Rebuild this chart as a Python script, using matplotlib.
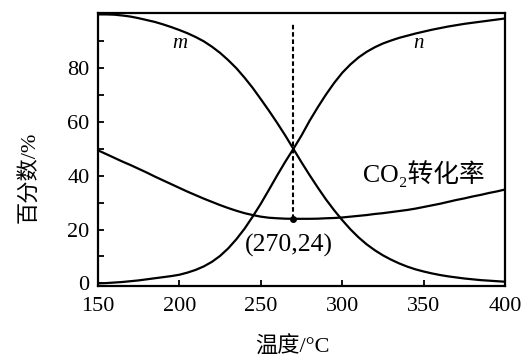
import matplotlib.pyplot as plt
from matplotlib.ticker import MultipleLocator

plt.rcParams['font.family'] = ['Liberation Serif', 'Noto Sans CJK SC', 'DejaVu Sans']

# temperature (deg C) and curve values (%), every 5 deg
temps = list(range(150, 401, 5))
m_vals = [100, 100, 99.9, 99.6, 99.2, 98.6, 97.9, 97.2, 96.3, 95.3,
          94.2, 93, 91.6, 90, 88, 85.7, 83, 80, 76.5, 72.7,
          68.5, 64.2, 59.7, 55, 50, 45, 40.2, 35.6, 31.2, 27.2,
          23.5, 20.1, 17.1, 14.5, 12.3, 10.4, 8.8, 7.4, 6.2, 5.2,
          4.4, 3.7, 3.1, 2.6, 2.2, 1.8, 1.5, 1.2, 1, 0.8, 0.6]
n_vals = [0, 0.1, 0.3, 0.5, 0.8, 1.1, 1.5, 1.9, 2.3, 2.7,
          3.2, 4, 5, 6.3, 8, 10.2, 13, 16.4, 20.3, 24.8,
          29.6, 34.8, 40.1, 45.2, 50, 55, 60.5, 65.5, 70.2, 74.5,
          78.3, 81.4, 84, 86.1, 87.8, 89.2, 90.3, 91.3, 92.1, 92.9,
          93.6, 94.3, 94.9, 95.5, 96, 96.5, 96.9, 97.3, 97.7, 98.1, 98.5]
co2_vals = [49.5, 48.1, 46.7, 45.3, 44.0, 42.6, 41.2, 39.7, 38.3, 36.9,
            35.5, 34.1, 32.8, 31.5, 30.3, 29.1, 28.0, 27.0, 26.1, 25.4,
            24.8, 24.4, 24.2, 24.05, 24.0, 24.0, 24.0, 24.05, 24.2, 24.3,
            24.5, 24.8, 25.1, 25.4, 25.8, 26.1, 26.5, 26.9, 27.3, 27.8,
            28.4, 29.0, 29.6, 30.3, 31.0, 31.6, 32.3, 32.9, 33.6, 34.2, 34.9]

min_point = (270, 24)
x_ticks = [150, 200, 250, 300, 350, 400]
y_ticks = [0, 20, 40, 60, 80]

fig = plt.figure(figsize=(5.29, 3.63), dpi=100)
ax = fig.add_axes([0.185, 0.212, 0.77, 0.752])

ax.plot(temps, m_vals, color='black', lw=1.6)
ax.plot(temps, n_vals, color='black', lw=1.6)
ax.plot(temps, co2_vals, color='black', lw=1.6)

# dashed guide through the minimum / crossing point
ax.plot([min_point[0], min_point[0]], [min_point[1], 96.5], color='black',
        lw=1.5, linestyle=(0, (2.2, 1.3)))
ax.plot(*min_point, 'o', color='black', ms=4)

ax.text(200, 89, 'm', fontsize=15, style='italic', ha='center', va='center')
ax.text(347, 89, 'n', fontsize=15, style='italic', ha='center', va='center')
ax.text(350, 41, 'CO₂转化率', fontsize=18.5, ha='center', va='center')
ax.text(267, 14.1, '(270,24)', fontsize=18.5, ha='center', va='center')

ax.set_xlim(150, 400)
ax.set_ylim(-1, 100.5)
ax.set_xticks(x_ticks)
ax.set_yticks(y_ticks)
ax.yaxis.set_minor_locator(MultipleLocator(10))
ax.tick_params(axis='both', which='both', direction='in', length=4, width=1.3,
               labelsize=16, top=False, right=False)
ax.tick_params(axis='x', pad=8)
ax.tick_params(axis='y', pad=6)

for s in ax.spines.values():
    s.set_linewidth(1.6)

ax.set_xlabel('温度/°C', fontsize=16)
ax.set_ylabel('百分数/%', fontsize=16)
ax.xaxis.set_label_coords(0.477, -0.185)
ax.yaxis.set_label_coords(-0.14, 0.40)

fig.savefig('out.png', dpi=100)
